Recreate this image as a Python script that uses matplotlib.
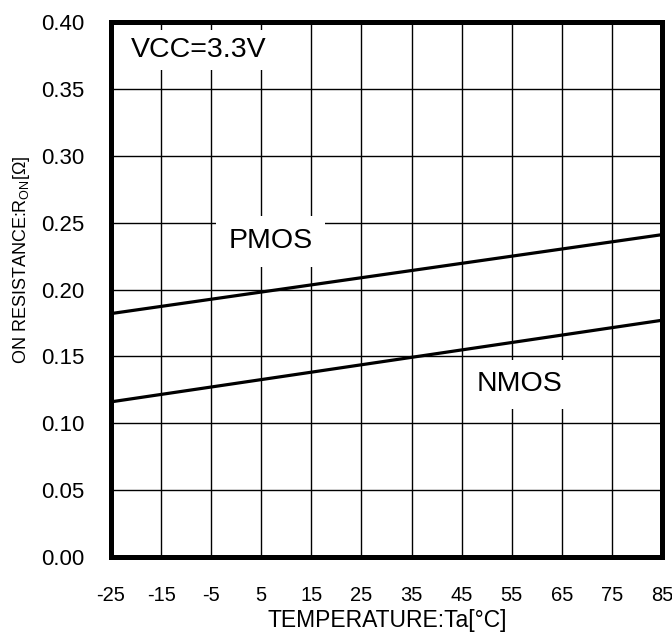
import numpy as np
import matplotlib
matplotlib.use('Agg')
import matplotlib.pyplot as plt

plt.rcParams['font.family'] = ['Liberation Sans', 'DejaVu Sans']

# data
temperature = [-25, 85]
pmos_ron = [0.182, 0.241]
nmos_ron = [0.116, 0.177]
x_ticks = [-25, -15, -5, 5, 15, 25, 35, 45, 55, 65, 75, 85]
y_ticks = [0.00, 0.05, 0.10, 0.15, 0.20, 0.25, 0.30, 0.35, 0.40]

W, H = 672, 641
fig = plt.figure(figsize=(W / 100, H / 100), dpi=100)
# axes box in pixels: left 111, right 662, top 22, bottom 557
ax = fig.add_axes([111 / W, 1 - 557 / H, (662 - 111) / W, (557 - 22) / H])

ax.plot(temperature, pmos_ron, color='black', lw=2.3, solid_capstyle='butt', zorder=3)
ax.plot(temperature, nmos_ron, color='black', lw=2.3, solid_capstyle='butt', zorder=3)

ax.set_xlim(-25, 85)
ax.set_ylim(0, 0.40)
ax.set_xticks(x_ticks)
ax.set_yticks(y_ticks)
ax.set_xticklabels([str(t) for t in x_ticks], fontsize=14.5)
ax.set_yticklabels(['%.2f' % v for v in y_ticks], fontsize=16)
ax.tick_params(axis='both', length=0)
ax.tick_params(axis='x', pad=21)
ax.tick_params(axis='y', pad=19)
ax.grid(True, color='black', lw=1.0)
ax.set_axisbelow(True)
for s in ax.spines.values():
    s.set_linewidth(3.6)
    s.set_zorder(5)

box = dict(facecolor='white', edgecolor='none', pad=5)
ax.text(-21.0, 0.379, 'VCC=3.3V', fontsize=20.5, va='center', ha='left', bbox=box, zorder=4)
ax.text(-1.6, 0.236, 'PMOS', fontsize=20.5, va='center', ha='left',
        bbox=dict(facecolor='white', edgecolor='none', pad=9), zorder=4)
ax.text(48.0, 0.129, 'NMOS', fontsize=20.5, va='center', ha='left',
        bbox=dict(facecolor='white', edgecolor='none', pad=8), zorder=4)

fig.text(387 / W, 1 - 620 / H, 'TEMPERATURE:Ta[°C]', fontsize=16.5, ha='center', va='center')
fig.text(22 / W, 1 - 260 / H, r'ON RESISTANCE:R$\mathregular{_{ON}}$[Ω]', fontsize=13,
         rotation=90, ha='center', va='center')

fig.savefig('out.png', dpi=100)
